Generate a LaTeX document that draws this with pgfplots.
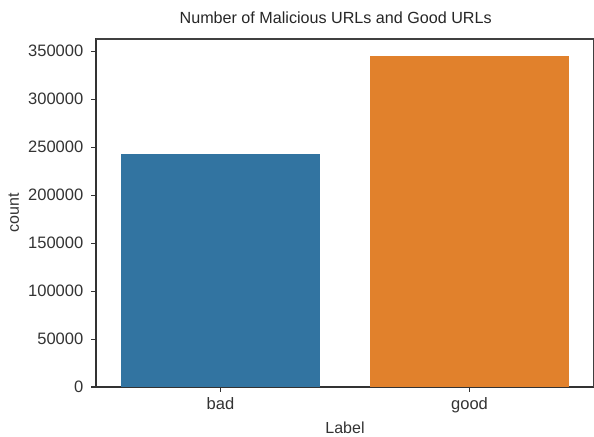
\documentclass[border=0pt]{standalone}
\usepackage{pgfplots}
\pgfplotsset{compat=1.18}
\usepackage{fontspec}
\setmainfont{Liberation Sans}
\definecolor{sbblue}{HTML}{3274A1}
\definecolor{sborange}{HTML}{E1812C}
\begin{document}
\begin{tikzpicture}
\begin{axis}[name=ax, width=373.5pt, height=261pt, scale only axis,
 clip=false,
 xmin=-0.5, xmax=1.5, ymin=0, ymax=362775,
 xtick={0,1}, xticklabels={bad,good},
 ytick={0,50000,100000,150000,200000,250000,300000,350000},
 scaled y ticks=false,
 yticklabel style={/pgf/number format/fixed, /pgf/number format/1000 sep={}, xshift=-2.5pt},
 xticklabel style={yshift=-1pt},
 /pgf/number format/assume math mode=true,
 tick align=outside, tick pos=left, major tick length=3.5pt,
 tick style={black!80, line width=0.8pt},
 axis line style={black!80, line width=0.8pt},
 xlabel={Label}, ylabel={count},
 title={Number of Malicious URLs and Good URLs},
 ticklabel style={font=\fontsize{12.4}{14}\selectfont, text=black!80},
 label style={font=\fontsize{12}{14}\selectfont, text=black!80},
 title style={font=\fontsize{12.1}{13}\selectfont, text=black!85, yshift=2pt, xshift=-7pt},
]
\addplot[ybar, bar width=0.8, bar shift=0pt, fill=sbblue, draw=none] coordinates {(0,243000)};
\addplot[ybar, bar width=0.8, bar shift=0pt, fill=sborange, draw=none] coordinates {(1,345500)};
\draw[black!75, line width=1pt] (rel axis cs:0,1) -- (rel axis cs:1,1) -- (rel axis cs:1,0);
\end{axis}
\pgfresetboundingbox
\path[use as bounding box] ([xshift=-72pt,yshift=-36.75pt]ax.south west) rectangle ([yshift=29.25pt]ax.north east);
\end{tikzpicture}
\end{document}
